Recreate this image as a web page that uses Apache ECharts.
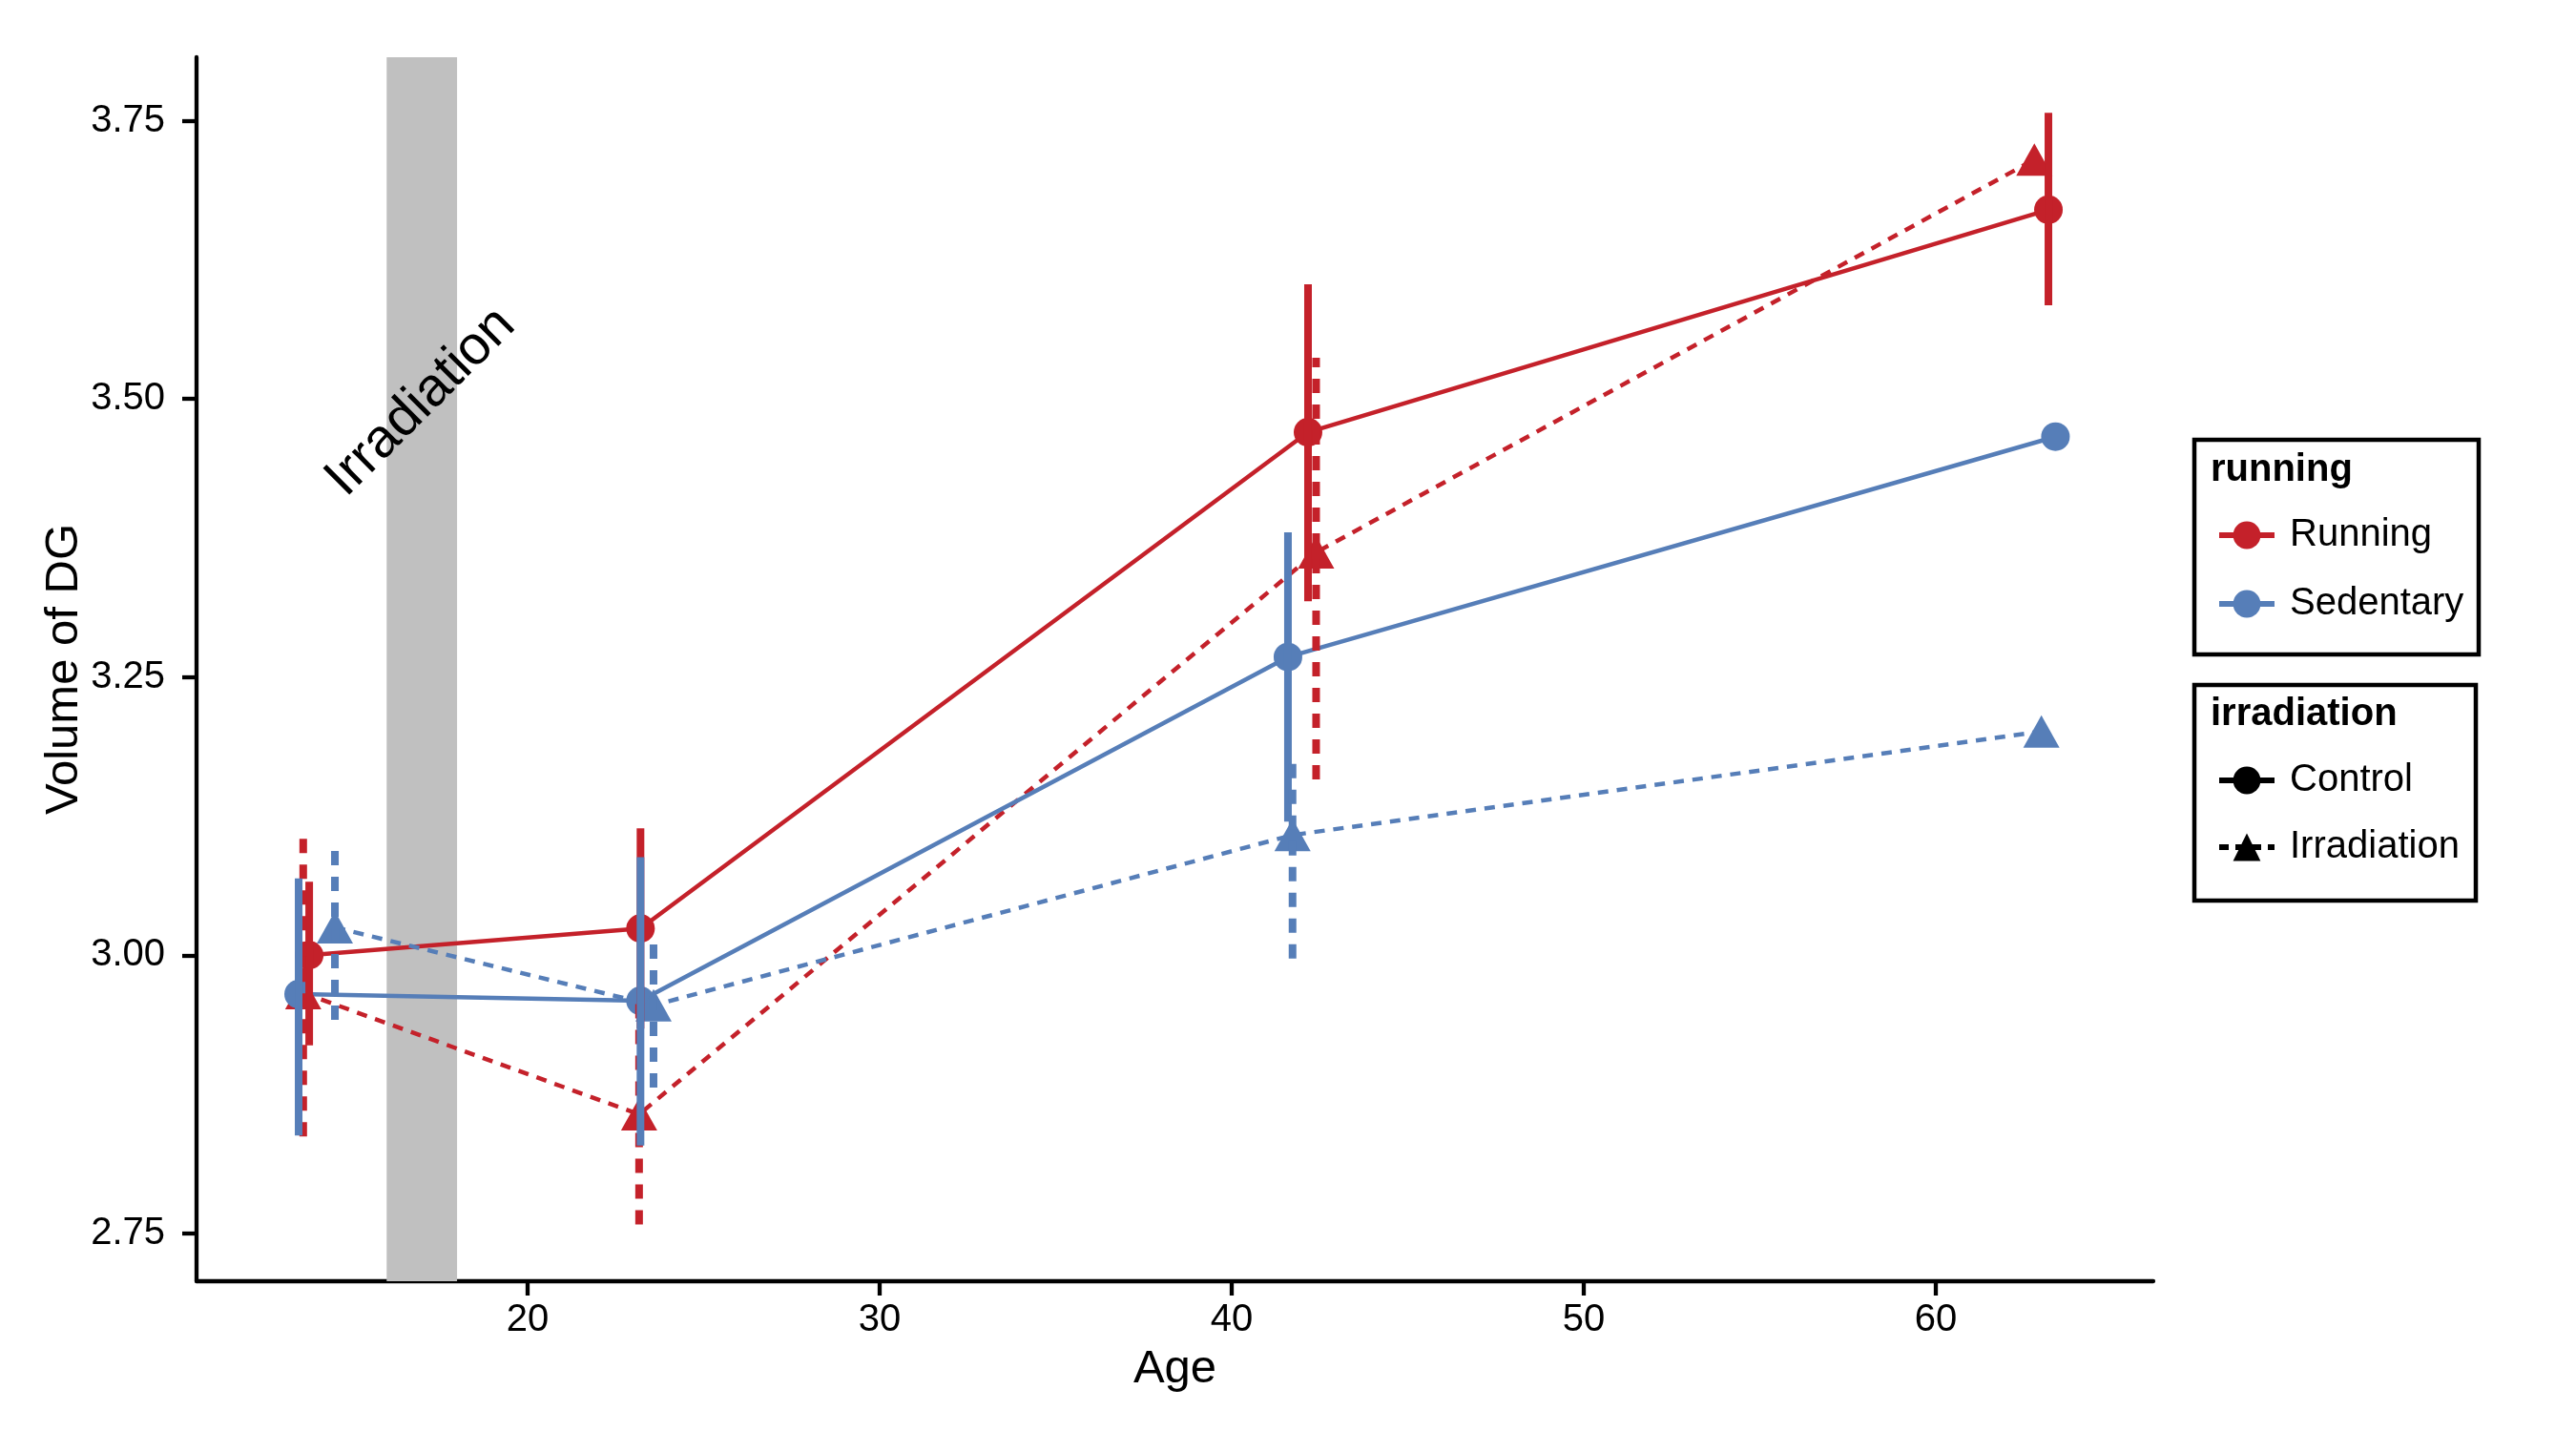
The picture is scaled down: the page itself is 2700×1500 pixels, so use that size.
<!DOCTYPE html>
<html><head><meta charset="utf-8">
<script src="https://cdn.jsdelivr.net/npm/echarts@6/dist/echarts.min.js"></script>
<style>html,body{margin:0;padding:0;background:#fff}#c{width:2700px;height:1500px}</style>
</head><body><div id="c"></div>
<script>
// ---- data ----
const ageTicks = [20, 30, 40, 50, 60];
const volumeTicks = [2.75, 3.00, 3.25, 3.50, 3.75];
const runningGroups = ['Running', 'Sedentary'];
const irradiationGroups = ['Control', 'Irradiation'];
const irradiationWindow = [16, 18];
const irradiationLabel = 'Irradiation';
const irradiationLabelPos = [16.97, 3.497];

const runCtrlAge  = [13.80, 23.21, 42.17, 63.20];
const runCtrlMean = [3.000, 3.024, 3.470, 3.670];
const runCtrlLow  = [2.919, 2.934, 3.318, 3.584];
const runCtrlHigh = [3.066, 3.114, 3.603, 3.757];

const runIrrAge  = [13.63, 23.17, 42.40, 62.80];
const runIrrMean = [2.966, 2.857, 3.362, 3.715];
const runIrrLow  = [2.837, 2.758, 3.158, null];
const runIrrHigh = [3.108, 2.956, 3.537, null];

const sedCtrlAge  = [13.50, 23.21, 41.60, 63.40];
const sedCtrlMean = [2.965, 2.959, 3.268, 3.466];
const sedCtrlLow  = [2.838, 2.829, 3.120, null];
const sedCtrlHigh = [3.069, 3.088, 3.380, null];

const sedIrrAge  = [14.53, 23.58, 41.73, 63.00];
const sedIrrMean = [3.025, 2.955, 3.108, 3.201];
const sedIrrLow  = [2.942, 2.881, 2.997, null];
const sedIrrHigh = [3.099, 3.014, 3.179, null];

// ---- styles ----
const RED = '#C4212A';
const BLUE = '#567EB8';
const FONT = '"Liberation Sans", Arial, Helvetica, sans-serif';
const CIRCLE = 30;
const TRI = [38, 34];

function zip(a, b) { return a.map((v, i) => [v, b[i]]); }

function lineSeries(name, ages, means, color, dashed, symbol) {
  return {
    type: 'line', name, data: zip(ages, means), z: 3,
    symbol, symbolSize: symbol === 'circle' ? CIRCLE : TRI,
    showAllSymbol: true, silent: true,
    itemStyle: { color, opacity: 1 },
    lineStyle: { color, width: 4.5, type: dashed ? [11, 9] : 'solid' },
    emphasis: { disabled: true }
  };
}

function errSeries(name, ages, lows, highs, color, dashed) {
  const data = [];
  ages.forEach((a, i) => { if (lows[i] != null) data.push([a, lows[i], highs[i]]); });
  return {
    type: 'custom', name, z: 5, silent: true,
    encode: { x: 0, y: [1, 2] },
    data,
    renderItem(params, api) {
      const p1 = api.coord([api.value(0), api.value(1)]);
      const p2 = api.coord([api.value(0), api.value(2)]);
      return {
        type: 'line',
        shape: { x1: p1[0], y1: p1[1], x2: p2[0], y2: p2[1] },
        style: { stroke: color, lineWidth: 8, lineDash: dashed ? [15, 12] : null, lineCap: 'butt' }
      };
    }
  };
}

function legendDummy(name, color, dashed, symbol) {
  return {
    type: 'line', name, data: [], symbol,
    symbolSize: symbol === 'circle' ? CIRCLE : TRI,
    itemStyle: { color },
    lineStyle: { color, width: 6, type: dashed ? [10, 7] : 'solid' }
  };
}

const chart = echarts.init(document.getElementById('c'), null, { renderer: 'canvas' });

const legendText = { fontSize: 40, lineHeight: 40, color: '#000', fontFamily: FONT, padding: [0, 0, 0, 11] };

const option = {
  animation: false,
  backgroundColor: '#fff',
  textStyle: { fontFamily: FONT },
  grid: { left: 206, right: 443, top: 60, bottom: 157, containLabel: false },
  xAxis: {
    type: 'value', min: 10.6, max: 66.18,
    name: 'Age', nameLocation: 'middle', nameGap: 68, nameMoveOverlap: false,
    nameTextStyle: { fontSize: 49, color: '#000', fontFamily: FONT },
    axisLine: { show: true, onZero: false, lineStyle: { color: '#000', width: 4.3 } },
    axisTick: { show: true, length: 15, lineStyle: { color: '#000', width: 4.3 }, customValues: ageTicks },
    axisLabel: { show: true, margin: 21, fontSize: 40, color: '#000', fontFamily: FONT, customValues: ageTicks },
    splitLine: { show: false }
  },
  yAxis: {
    type: 'value', min: 2.707, max: 3.807,
    name: 'Volume of DG', nameLocation: 'middle', nameGap: 114, nameMoveOverlap: false,
    nameTextStyle: { fontSize: 49, color: '#000', fontFamily: FONT },
    axisLine: { show: true, onZero: false, lineStyle: { color: '#000', width: 4.3 } },
    axisTick: { show: true, length: 15, lineStyle: { color: '#000', width: 4.3 }, customValues: volumeTicks },
    axisLabel: { show: true, margin: 33, fontSize: 40, color: '#000', fontFamily: FONT,
      customValues: volumeTicks, formatter: v => Number(v).toFixed(2) },
    splitLine: { show: false }
  },
  legend: [
    {
      data: runningGroups, orient: 'vertical', left: 2323, top: 541, padding: 0,
      itemWidth: 58, itemHeight: 36, itemGap: 32, selectedMode: false,
      lineStyle: { width: 6 },
      textStyle: legendText
    },
    {
      data: irradiationGroups, orient: 'vertical', left: 2323, top: 798, padding: 0,
      itemWidth: 58, itemHeight: 36, itemGap: 30, selectedMode: false,
      lineStyle: { width: 6 },
      textStyle: legendText
    }
  ],
  graphic: [
    { type: 'rect', shape: { x: 2300, y: 461, width: 298, height: 225 }, style: { fill: null, stroke: '#000', lineWidth: 4.5 }, z: 10 },
    { type: 'rect', shape: { x: 2300, y: 718, width: 295, height: 226 }, style: { fill: null, stroke: '#000', lineWidth: 4.5 }, z: 10 },
    { type: 'text', x: 2317, y: 493, style: { text: 'running', font: 'bold 40px ' + FONT, fill: '#000', verticalAlign: 'middle' }, z: 10 },
    { type: 'text', x: 2317, y: 749, style: { text: 'irradiation', font: 'bold 40px ' + FONT, fill: '#000', verticalAlign: 'middle' }, z: 10 }
  ],
  series: [
    {
      type: 'line', name: 'band', data: [], z: 1, silent: true,
      markArea: {
        silent: true,
        itemStyle: { color: '#C0C0C0', opacity: 1 },
        data: [[{ xAxis: irradiationWindow[0] }, { xAxis: irradiationWindow[1] }]]
      }
    },
    {
      type: 'scatter', name: 'annotation', z: 2, silent: true,
      data: [irradiationLabelPos], symbolSize: 2, itemStyle: { color: 'rgba(0,0,0,0)' },
      label: { show: true, position: 'inside', formatter: irradiationLabel, rotate: 45,
        fontSize: 57, color: '#000', fontFamily: FONT, opacity: 1 }
    },
    lineSeries('Running · Control', runCtrlAge, runCtrlMean, RED, false, 'circle'),
    lineSeries('Running · Irradiation', runIrrAge, runIrrMean, RED, true, 'triangle'),
    lineSeries('Sedentary · Control', sedCtrlAge, sedCtrlMean, BLUE, false, 'circle'),
    lineSeries('Sedentary · Irradiation', sedIrrAge, sedIrrMean, BLUE, true, 'triangle'),
    errSeries('err-rc', runCtrlAge, runCtrlLow, runCtrlHigh, RED, false),
    errSeries('err-ri', runIrrAge, runIrrLow, runIrrHigh, RED, true),
    errSeries('err-sc', sedCtrlAge, sedCtrlLow, sedCtrlHigh, BLUE, false),
    errSeries('err-si', sedIrrAge, sedIrrLow, sedIrrHigh, BLUE, true),
    legendDummy('Running', RED, false, 'circle'),
    legendDummy('Sedentary', BLUE, false, 'circle'),
    legendDummy('Control', '#000', false, 'circle'),
    legendDummy('Irradiation', '#000', true, 'triangle')
  ]
};
chart.setOption(option);
</script>
</body></html>
